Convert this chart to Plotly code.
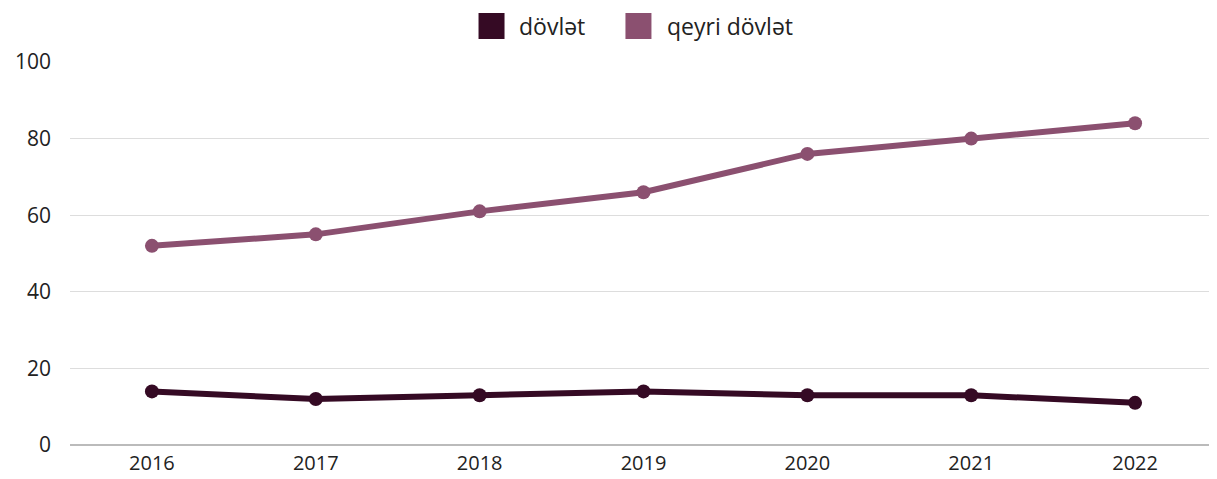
import plotly.graph_objects as go

years = ['2016', '2017', '2018', '2019', '2020', '2021', '2022']
dovlet = [14, 12, 13, 14, 13, 13, 11]
qeyri_dovlet = [52, 55, 61, 66, 76, 80, 84]

series = [('dövlət', dovlet, '#350a24'), ('qeyri dövlət', qeyri_dovlet, '#8b5070')]

# legend pieces (paper x of square centre, paper x of text start)
legend_pos = [(0.3675, 0.3897), (0.4956, 0.5187)]

fig = go.Figure()

for (name, values, c), (sq_x, tx_x) in zip(series, legend_pos):
    fig.add_trace(go.Scatter(x=years, y=values, name=name, mode='lines+markers',
                             line=dict(color=c, width=6),
                             marker=dict(color=c, size=14),
                             showlegend=False))
    # big square legend swatch, drawn by hand since plotly caps legend symbols
    fig.add_shape(type='rect', xref='paper', yref='paper',
                  xsizemode='pixel', ysizemode='pixel',
                  xanchor=sq_x, yanchor=1.094,
                  x0=-13, x1=13, y0=-13, y1=13,
                  fillcolor=c, line=dict(width=0))
    fig.add_annotation(text=name, xref='paper', yref='paper', x=tx_x, y=1.094,
                       xanchor='left', yanchor='middle', showarrow=False,
                       font=dict(size=23, color='#222222'))

fig.update_layout(
    width=1209, height=471,
    paper_bgcolor='white', plot_bgcolor='white',
    font=dict(family='Open Sans', size=21, color='#222222'),
    margin=dict(l=62, r=0, t=54, b=34),
    showlegend=False,
)
fig.update_xaxes(type='category', range=[-0.5, 6.5], showgrid=False, showline=False,
                 ticks='', ticklabelstandoff=4, tickfont=dict(size=20), automargin=False)
fig.update_yaxes(range=[0, 100], dtick=20, gridcolor='#dddddd', gridwidth=1,
                 zeroline=True, zerolinecolor='#bbbbbb', zerolinewidth=1.5,
                 ticks='', ticklabelstandoff=18, automargin=False)

fig.write_html("out.html")
